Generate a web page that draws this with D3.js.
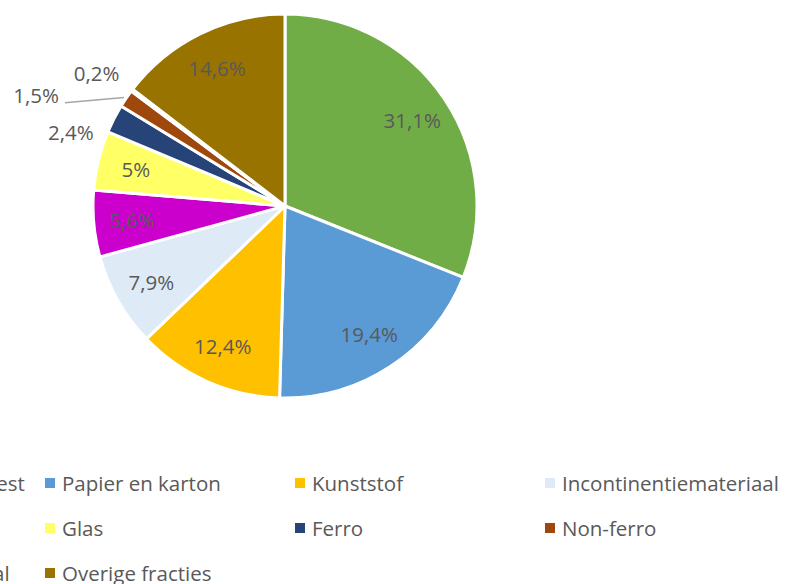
<!DOCTYPE html>
<html>
  <head>
    <title>Afvalsamenstelling</title>
    <script src="https://cdn.jsdelivr.net/npm/d3@7/dist/d3.min.js"></script>
    <style>
      body { margin: 0; background: #fff; }
      text { font-family: "Open Sans", Lato, sans-serif; fill: #595959; }
    </style>
  </head>
  <body>
    <script>
      var categories = ['GFT-afval en etensrest', 'Papier en karton', 'Kunststof', 'Incontinentiemateriaal',
                        'Textiel', 'Glas', 'Ferro', 'Non-ferro', 'Klein Chemisch Afval', 'Overige fracties'];
      var values = [31.1, 19.4, 12.4, 7.9, 5.6, 5, 2.4, 1.5, 0.2, 14.6];
      var labels = ['31,1%', '19,4%', '12,4%', '7,9%', '5,6%', '5%', '2,4%', '1,5%', '0,2%', '14,6%'];
      var colors = ['#70ad47', '#5b9bd5', '#ffc000', '#deebf7', '#cc00cc', '#ffff66', '#264478', '#9e480e', '#d9d9d9', '#997300'];

      var width = 791, height = 584;
      var cx = 285, cy = 206, r = 192;

      var svg = d3.select('body').append('svg').attr('width', width).attr('height', height);
      var g = svg.append('g').attr('transform', 'translate(' + cx + ',' + cy + ')');

      var pie = d3.pie().sort(null).value(function(d){ return d; });
      var arcs = pie(values);
      var arc = d3.arc().innerRadius(0).outerRadius(r);

      g.selectAll('path').data(arcs).enter().append('path')
        .attr('d', arc)
        .attr('fill', function(d, i){ return colors[i]; })
        .attr('stroke', '#fff').attr('stroke-width', 3).attr('stroke-linejoin', 'round');

      // small slices get their label outside, nudged like excel's best fit
      var outside = { 6: {k: 1.18, da: -8}, 7: {k: 1.42, da: -10, leader: true}, 8: {k: 1.2, da: -2} };
      function polar(a, rad){ return [rad * Math.sin(a), -rad * Math.cos(a)]; }

      arcs.forEach(function(d, i){
        var mid = (d.startAngle + d.endAngle) / 2;
        var o = outside[i];
        var p = o ? polar(mid + o.da * Math.PI / 180, o.k * r) : polar(mid, 0.8 * r);
        var t = g.append('text').attr('x', p[0]).attr('y', p[1])
          .attr('text-anchor', 'middle').attr('dominant-baseline', 'central')
          .attr('font-size', 20.5).text(labels[i]);
        if (o && o.leader) {
          var w = t.node().getBBox().width;
          var e = polar(mid, r);
          g.append('line').attr('x1', p[0] + w / 2 + 6).attr('y1', p[1] + 8)
            .attr('x2', e[0] - 2).attr('y2', e[1] - 1)
            .attr('stroke', '#a6a6a6').attr('stroke-width', 1.5);
        }
      });

      // legend, 4 columns, first column runs off the left edge
      var colW = 250, rowH = 45, lx = -205, ly = 483;
      var leg = svg.selectAll('g.leg').data(categories).enter().append('g').attr('class', 'leg')
        .attr('transform', function(d, i){
          return 'translate(' + (lx + (i % 4) * colW) + ',' + (ly + Math.floor(i / 4) * rowH) + ')';
        });
      leg.append('rect').attr('x', 0).attr('y', -5).attr('width', 10).attr('height', 10)
        .attr('fill', function(d, i){ return colors[i]; });
      leg.append('text').attr('x', 17).attr('y', 0).attr('dominant-baseline', 'central')
        .attr('font-size', 20.5).text(function(d){ return d; });
    </script>
  </body>
</html>
